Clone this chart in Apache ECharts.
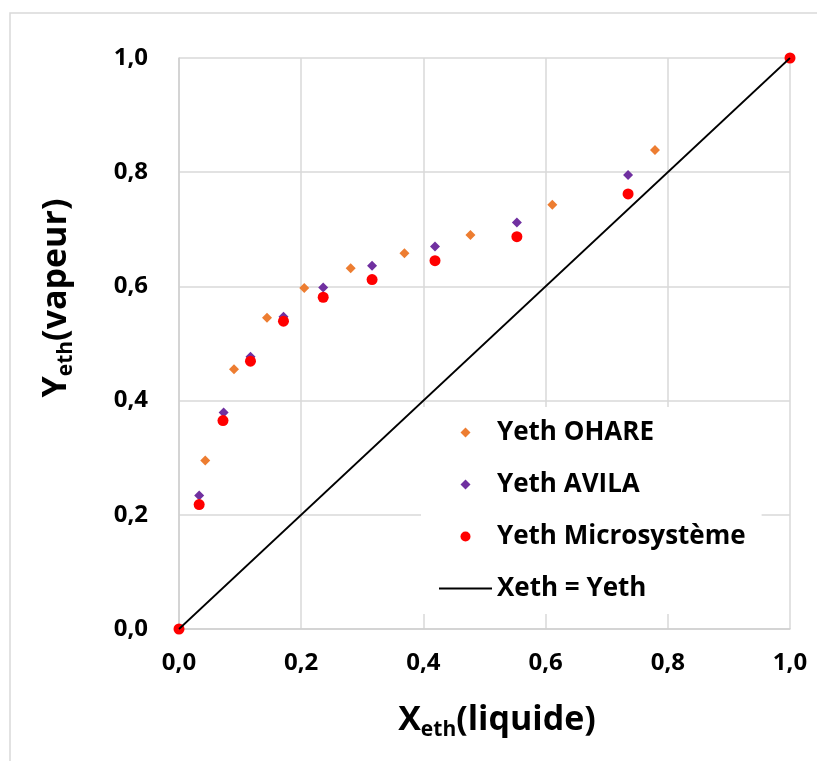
<!DOCTYPE html>
<html>
<head>
<meta charset="utf-8">
<script src="https://cdn.jsdelivr.net/npm/echarts@6/dist/echarts.min.js"></script>
<style>
html, body { margin: 0; padding: 0; background: #fff; }
#chart { width: 817px; height: 761px; }
</style>
</head>
<body>
<div id="chart"></div>
<script>
// Yeth OHARE
var ohareX = [0.043, 0.090, 0.144, 0.205, 0.281, 0.369, 0.477, 0.611, 0.779];
var ohareY = [0.295, 0.455, 0.545, 0.597, 0.632, 0.658, 0.690, 0.743, 0.839];
// Yeth AVILA
var avilaX = [0.033, 0.073, 0.117, 0.171, 0.236, 0.316, 0.419, 0.553, 0.735];
var avilaY = [0.234, 0.379, 0.477, 0.547, 0.598, 0.636, 0.670, 0.712, 0.795];
// Yeth Microsystème
var microX = [0.0, 0.033, 0.072, 0.117, 0.171, 0.236, 0.316, 0.419, 0.553, 0.735, 1.0];
var microY = [0.0, 0.218, 0.365, 0.469, 0.539, 0.581, 0.612, 0.645, 0.687, 0.762, 1.0];
// Xeth = Yeth
var diagX = [0, 1];
var diagY = [0, 1];

var pairs = function(xs, ys) {
	return xs.map(function(x, i) { return [x, ys[i]]; });
};
var fmt = function(v) {
	return v.toFixed(1).replace('.', ',');
};

var chart = echarts.init(document.getElementById('chart'));
var font = 'Open Sans';
var diamondIcon = 'path://M5,0 L10,5 L5,10 L0,5 Z';

var titleRich = {
	b: { fontFamily: font, fontWeight: 'bold', fontSize: 34, fill: '#000', lineHeight: 44 },
	s: { fontFamily: font, fontWeight: 'bold', fontSize: 21, fill: '#000', lineHeight: 44, padding: [20, 0, 0, 0] }
};

var option = {
	backgroundColor: '#fff',
	animation: false,
	grid: { left: 179, right: 27, top: 58, bottom: 132 },
	xAxis: {
		type: 'value',
		min: 0, max: 1, interval: 0.2,
		axisLine: { lineStyle: { color: '#cfcfcf', width: 1.5 } },
		axisTick: { show: false },
		splitLine: { lineStyle: { color: '#d9d9d9', width: 1.5 } },
		axisLabel: { formatter: fmt, margin: 22, color: '#000', fontFamily: font, fontWeight: 'bold', fontSize: 24 }
	},
	yAxis: {
		type: 'value',
		min: 0, max: 1, interval: 0.2,
		axisLine: { show: true, lineStyle: { color: '#cfcfcf', width: 1.5 } },
		axisTick: { show: false },
		splitLine: { lineStyle: { color: '#d9d9d9', width: 1.5 } },
		axisLabel: { formatter: fmt, margin: 31, color: '#000', fontFamily: font, fontWeight: 'bold', fontSize: 24 }
	},
	legend: {
		orient: 'vertical',
		left: 421,
		top: 407,
		padding: [10, 16, 10, 17],
		backgroundColor: '#fff',
		itemWidth: 53,
		itemHeight: 10,
		itemGap: 21,
		symbolKeepAspect: true,
		textStyle: { color: '#000', fontFamily: font, fontWeight: 'bold', fontSize: 26, lineHeight: 31 },
		data: [
			{ name: 'Yeth OHARE', icon: diamondIcon },
			{ name: 'Yeth AVILA', icon: diamondIcon },
			{ name: 'Yeth Microsystème', icon: 'circle' },
			{ name: 'Xeth = Yeth', itemStyle: { opacity: 0 } }
		]
	},
	graphic: [
		{
			type: 'rect', silent: true, z: -1,
			shape: { x: 10, y: 13, width: 900, height: 900 },
			style: { fill: 'none', stroke: '#d9d9d9', lineWidth: 1.5 }
		},
		{
			type: 'text', x: 497, y: 720,
			style: { text: '{b|X}{s|eth}{b|(liquide)}', align: 'center', verticalAlign: 'middle', rich: titleRich }
		},
		{
			type: 'text', x: 56, y: 298, rotation: Math.PI / 2,
			style: { text: '{b|Y}{s|eth}{b|(vapeur)}', align: 'center', verticalAlign: 'middle', rich: titleRich }
		}
	],
	series: [
		{
			name: 'Xeth = Yeth',
			type: 'line',
			symbol: 'none',
			lineStyle: { color: '#000', width: 1.75 },
			itemStyle: { color: '#000' },
			data: pairs(diagX, diagY)
		},
		{
			name: 'Yeth OHARE',
			type: 'scatter',
			symbol: 'diamond',
			symbolSize: 10,
			itemStyle: { color: '#ED7D31', opacity: 1 },
			data: pairs(ohareX, ohareY)
		},
		{
			name: 'Yeth AVILA',
			type: 'scatter',
			symbol: 'diamond',
			symbolSize: 10,
			itemStyle: { color: '#7030A0', opacity: 1 },
			data: pairs(avilaX, avilaY)
		},
		{
			name: 'Yeth Microsystème',
			type: 'scatter',
			symbol: 'circle',
			symbolSize: 11,
			itemStyle: { color: '#FF0000', opacity: 1 },
			data: pairs(microX, microY)
		}
	]
};
chart.setOption(option);
</script>
</body>
</html>
